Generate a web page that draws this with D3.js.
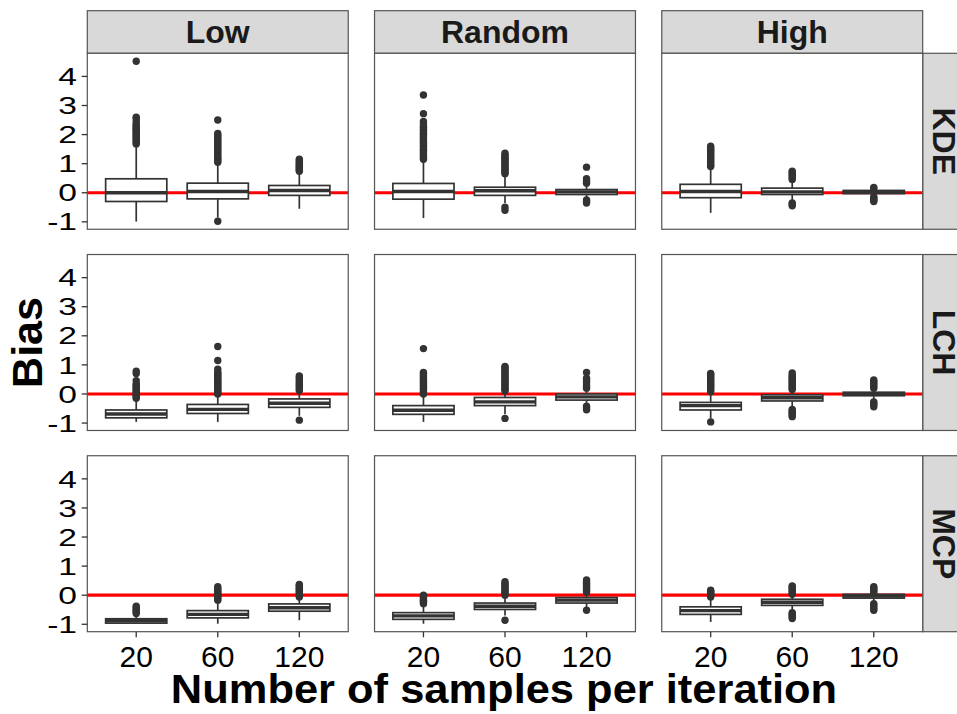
<!DOCTYPE html>
<meta charset="utf-8">
<style>
body{
  margin:0;
  background:#fff;
}
svg text{
  font-family:"Liberation Sans", Arial, sans-serif;
}
.strip rect{
  fill:#d9d9d9;
  stroke:#555;
  stroke-width:1.2px;
}
.strip text{
  font-weight:bold;
  font-size:32px;
  fill:#1a1a1a;
  text-anchor:middle;
}
.border{
  fill:none;
  stroke:#555;
  stroke-width:1.2px;
}
.tick line{
  stroke:#333;
  stroke-width:1.3px;
}
.ytick text{
  font-size:24px;
  fill:#000;
  text-anchor:end;
}
.xtick text{
  font-size:30px;
  fill:#000;
  text-anchor:middle;
}
.title{
  font-weight:bold;
  fill:#000;
  text-anchor:middle;
}
</style>
<body>
<script src="https://cdn.jsdelivr.net/npm/d3@7"></script>
<script>
var designs = ["Low", "Random", "High"];
var methods = ["KDE", "LCH", "MCP"];
var sizes = ["20", "60", "120"];
var yTicks = [-1, 0, 1, 2, 3, 4];

// box stats per design, per sample size: [lower whisker, q1, median, q3, upper whisker]
var kdeStats = [
  [[-0.99, -0.30, 0.00, 0.48, 1.60], [-0.85, -0.21, 0.045, 0.33, 1.00], [-0.55, -0.09, 0.08, 0.25, 0.70]],
  [[-0.87, -0.22, 0.045, 0.32, 1.10], [-0.35, -0.09, 0.07, 0.19, 0.60], [-0.20, -0.06, 0.03, 0.11, 0.25]],
  [[-0.69, -0.17, 0.045, 0.29, 0.85], [-0.30, -0.06, 0.03, 0.16, 0.42], [-0.10, -0.03, 0.02, 0.08, 0.12]]
];
var lchStats = [
  [[-0.96, -0.82, -0.69, -0.55, -0.20], [-0.96, -0.67, -0.53, -0.36, -0.05], [-0.75, -0.46, -0.32, -0.17, 0.05]],
  [[-0.96, -0.70, -0.56, -0.40, -0.05], [-0.70, -0.40, -0.27, -0.12, 0.05], [-0.38, -0.21, -0.10, 0.00, 0.15]],
  [[-0.85, -0.55, -0.40, -0.29, 0.05], [-0.50, -0.24, -0.13, -0.03, 0.12], [-0.22, -0.06, 0.00, 0.06, 0.16]]
];
var mcpStats = [
  [[-0.98, -0.96, -0.88, -0.81, -0.68], [-0.98, -0.78, -0.66, -0.53, -0.22], [-0.86, -0.55, -0.43, -0.30, -0.10]],
  [[-0.98, -0.83, -0.71, -0.60, -0.33], [-0.70, -0.49, -0.38, -0.27, -0.04], [-0.45, -0.27, -0.17, -0.08, 0.07]],
  [[-0.92, -0.66, -0.53, -0.40, -0.10], [-0.55, -0.35, -0.24, -0.14, 0.00], [-0.25, -0.10, -0.03, 0.03, 0.08]]
];

// outliers, same order
var kdeOutliers = [
  [[1.68, 1.72, 1.78, 1.83, 1.88, 1.93, 1.98, 2.03, 2.08, 2.13, 2.18, 2.22, 2.27, 2.32, 2.36, 2.45, 2.55, 2.60, 4.52],
   [-0.98, 1.05, 1.10, 1.15, 1.20, 1.26, 1.32, 1.38, 1.44, 1.50, 1.56, 1.62, 1.68, 1.74, 1.80, 1.86, 1.92, 1.98, 2.04, 2.50],
   [0.74, 0.78, 0.82, 0.86, 0.90, 0.95, 1.00, 1.05, 1.10, 1.15]],
  [[1.15, 1.20, 1.25, 1.30, 1.35, 1.40, 1.45, 1.50, 1.55, 1.60, 1.65, 1.70, 1.75, 1.80, 1.85, 1.90, 1.95, 2.00, 2.05, 2.10, 2.15, 2.20, 2.25, 2.30, 2.37, 2.45, 2.72, 3.36],
   [-0.50, -0.60, 0.65, 0.70, 0.75, 0.80, 0.85, 0.90, 0.95, 1.00, 1.05, 1.10, 1.15, 1.20, 1.25, 1.30, 1.36],
   [-0.25, -0.30, -0.35, 0.33, 0.40, 0.48, 0.88]],
  [[0.90, 0.95, 1.00, 1.05, 1.10, 1.15, 1.20, 1.25, 1.30, 1.35, 1.40, 1.45, 1.50, 1.55, 1.60],
   [-0.35, -0.40, -0.45, 0.46, 0.52, 0.58, 0.64, 0.70, 0.74],
   [-0.14, -0.18, -0.22, -0.26, -0.30, 0.15, 0.18]]
];
var lchOutliers = [
  [[-0.15, -0.10, -0.05, 0.00, 0.05, 0.10, 0.15, 0.20, 0.25, 0.30, 0.35, 0.46, 0.70, 0.78],
   [0.00, 0.05, 0.10, 0.15, 0.20, 0.25, 0.30, 0.35, 0.40, 0.45, 0.50, 0.55, 0.60, 0.65, 0.70, 0.75, 0.85, 1.15, 1.63],
   [-0.90, 0.12, 0.18, 0.24, 0.30, 0.36, 0.42, 0.50, 0.56, 0.62]],
  [[0.00, 0.05, 0.10, 0.15, 0.20, 0.25, 0.30, 0.35, 0.40, 0.45, 0.50, 0.55, 0.60, 0.65, 0.70, 0.74, 1.56],
   [-0.84, 0.10, 0.15, 0.20, 0.25, 0.30, 0.35, 0.40, 0.45, 0.50, 0.55, 0.60, 0.65, 0.70, 0.75, 0.80, 0.85, 0.90, 0.95],
   [-0.42, -0.48, -0.54, 0.20, 0.27, 0.34, 0.41, 0.48, 0.54, 0.74]],
  [[-0.96, 0.08, 0.13, 0.18, 0.23, 0.28, 0.33, 0.38, 0.43, 0.48, 0.53, 0.58, 0.63, 0.68, 0.71],
   [-0.53, -0.58, -0.63, -0.68, -0.73, -0.78, 0.15, 0.20, 0.25, 0.30, 0.35, 0.40, 0.45, 0.50, 0.55, 0.60, 0.65, 0.72],
   [-0.27, -0.32, -0.37, -0.44, 0.20, 0.26, 0.32, 0.38, 0.43, 0.48]]
];
var mcpOutliers = [
  [[-0.63, -0.58, -0.53, -0.48, -0.43, -0.38],
   [-0.17, -0.12, -0.07, -0.02, 0.03, 0.08, 0.13, 0.18, 0.23, 0.29],
   [-0.06, -0.01, 0.04, 0.09, 0.14, 0.19, 0.24, 0.29, 0.33, 0.37]],
  [[-0.29, -0.25, -0.21, -0.17, -0.13, -0.09, -0.05, 0.00],
   [-0.86, 0.00, 0.05, 0.10, 0.15, 0.20, 0.25, 0.30, 0.35, 0.40, 0.46],
   [-0.52, 0.11, 0.16, 0.21, 0.26, 0.31, 0.36, 0.41, 0.46, 0.52]],
  [[-0.06, -0.02, 0.02, 0.06, 0.10, 0.14, 0.17],
   [-0.60, -0.65, -0.70, -0.75, -0.80, 0.03, 0.08, 0.13, 0.18, 0.23, 0.28, 0.32],
   [-0.29, -0.34, -0.40, -0.46, -0.52, 0.10, 0.15, 0.20, 0.25, 0.29]]
];

var stats = {KDE: kdeStats, LCH: lchStats, MCP: mcpStats};
var outliers = {KDE: kdeOutliers, LCH: lchOutliers, MCP: mcpOutliers};

var W = 957, H = 714;
var svg = d3.select("body").append("svg").attr("width", W).attr("height", H);

// facet grid
var col = d3.scaleBand().domain(designs).range([87.3, 922.7]).paddingInner(0.0915);
var row = d3.scaleBand().domain(methods).range([53.3, 631.7]).paddingInner(0.1255);
var pw = col.bandwidth(), ph = row.bandwidth();

var x = d3.scalePoint().domain(sizes).range([0, pw]).padding(0.6);
var y = d3.scaleLinear().domain([-1.255, 4.795]).range([ph, 0]);
var boxW = x.step() * 0.75;

// top strips
designs.forEach(function(d){
  var g = svg.append("g").attr("class", "strip").attr("transform", "translate(" + col(d) + ",10.7)");
  g.append("rect").attr("width", pw).attr("height", 42.6);
  g.append("text").attr("x", pw / 2).attr("y", 21.3 + 11.4).text(d);
});
// right strips
methods.forEach(function(m){
  var g = svg.append("g").attr("class", "strip").attr("transform", "translate(922.7," + row(m) + ")");
  g.append("rect").attr("width", 42.6).attr("height", ph);
  g.append("text").attr("transform", "translate(" + (21.3 - 11.4) + "," + (ph / 2) + ") rotate(90)").text(m);
});

methods.forEach(function(m, mi){
  designs.forEach(function(d, di){
    var g = svg.append("g").attr("transform", "translate(" + col(d) + "," + row(m) + ")");
    g.append("rect").attr("width", pw).attr("height", ph).attr("fill", "#fff");

    // reference line
    g.append("line").attr("x1", 0).attr("x2", pw).attr("y1", y(0)).attr("y2", y(0))
      .attr("stroke", "#ff0000").attr("stroke-width", 3.2);

    sizes.forEach(function(s, si){
      var st = stats[m][di][si], cx = x(s);
      var b = g.append("g");
      b.append("line").attr("x1", cx).attr("x2", cx).attr("y1", y(st[4])).attr("y2", y(st[3]))
        .attr("stroke", "#333").attr("stroke-width", 1.7);
      b.append("line").attr("x1", cx).attr("x2", cx).attr("y1", y(st[1])).attr("y2", y(st[0]))
        .attr("stroke", "#333").attr("stroke-width", 1.7);
      b.append("rect").attr("x", cx - boxW / 2).attr("width", boxW)
        .attr("y", y(st[3])).attr("height", y(st[1]) - y(st[3]))
        .attr("fill", "#fff").attr("stroke", "#333").attr("stroke-width", 1.7);
      b.append("line").attr("x1", cx - boxW / 2).attr("x2", cx + boxW / 2).attr("y1", y(st[2])).attr("y2", y(st[2]))
        .attr("stroke", "#333").attr("stroke-width", 3.4);
      b.selectAll("circle").data(outliers[m][di][si]).enter().append("circle")
        .attr("cx", cx).attr("cy", function(v){ return y(v); }).attr("r", 3.7)
        .attr("fill", "#333");
    });

    g.append("rect").attr("class", "border").attr("width", pw).attr("height", ph);

    // y axis on first column (labels are drawn wide, as in the source)
    if (di == 0) {
      var yt = g.selectAll("g.ytick").data(yTicks).enter().append("g").attr("class", "tick ytick")
        .attr("transform", function(v){ return "translate(0," + y(v) + ")"; });
      yt.append("line").attr("x1", -5.6).attr("x2", 0);
      yt.append("text").attr("transform", "translate(-10.3,0) scale(1.4,1)")
        .attr("dy", "0.36em").text(function(v){ return v; });
    }
    // x axis on last row
    if (mi == methods.length - 1) {
      var xt = g.selectAll("g.xtick").data(sizes).enter().append("g").attr("class", "tick xtick")
        .attr("transform", function(s){ return "translate(" + x(s) + "," + ph + ")"; });
      xt.append("line").attr("y1", 0).attr("y2", 5.6);
      xt.append("text").attr("y", 35).text(function(s){ return s; });
    }
  });
});

svg.append("text").attr("class", "title").attr("font-size", 41)
  .attr("transform", "translate(504,703) scale(1.06,1)").text("Number of samples per iteration");
svg.append("text").attr("class", "title").attr("font-size", 43)
  .attr("transform", "translate(41.5,342.5) rotate(-90)").text("Bias");
</script>
</body>
